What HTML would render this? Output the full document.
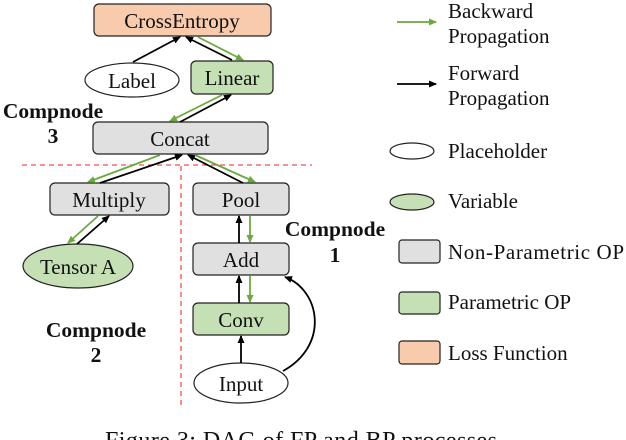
<!DOCTYPE html>
<html><head><style>
html,body{margin:0;padding:0;background:#fff;}
svg{display:block;}
text{font-family:"Liberation Serif",serif;fill:#111;}
</style></head><body>
<svg width="626" height="440" viewBox="0 0 626 440" xmlns="http://www.w3.org/2000/svg">
<defs>
<marker id="ab" markerWidth="8" markerHeight="8" refX="7" refY="4" orient="auto" markerUnits="userSpaceOnUse"><path d="M0,0.5 L8,4 L0,7.5 Z" fill="#000"/></marker>
<marker id="ag" markerWidth="8" markerHeight="8" refX="7" refY="4" orient="auto" markerUnits="userSpaceOnUse"><path d="M0,0.5 L8,4 L0,7.5 Z" fill="#6aaa3c"/></marker>
</defs>
<g stroke="#f05050" stroke-width="1.3" stroke-dasharray="5,4" fill="none">
<line x1="22" y1="165" x2="312" y2="165"/>
<line x1="181" y1="166" x2="181" y2="408"/>
</g>
<g stroke="#222" stroke-width="1.2">
<rect x="94" y="4" width="177" height="32" rx="5" fill="#f8cbad"/>
<ellipse cx="132" cy="80" rx="47" ry="17" fill="#fff"/>
<rect x="191" y="61" width="82" height="33" rx="5" fill="#c5e0b4"/>
<rect x="93" y="122" width="175" height="32" rx="5" fill="#e0e0e0"/>
<rect x="50" y="183" width="119" height="32" rx="5" fill="#e0e0e0"/>
<rect x="193" y="183" width="96" height="32" rx="5" fill="#e0e0e0"/>
<ellipse cx="78" cy="266" rx="55" ry="22" fill="#c5e0b4"/>
<rect x="193" y="243" width="96" height="32" rx="5" fill="#e0e0e0"/>
<rect x="193" y="303" width="96" height="32" rx="5" fill="#c5e0b4"/>
<ellipse cx="241" cy="383" rx="47" ry="20" fill="#fff"/>
</g>
<g stroke="#000" stroke-width="1.8" fill="none" marker-end="url(#ab)">
<line x1="133" y1="62" x2="180" y2="37"/>
<line x1="232" y1="60" x2="186" y2="37"/>
<line x1="180" y1="122" x2="231" y2="95"/>
<line x1="100" y1="183" x2="182" y2="155"/>
<line x1="243" y1="183" x2="188" y2="155"/>
<line x1="77" y1="244" x2="109" y2="216"/>
<line x1="239" y1="243" x2="239" y2="216"/>
<line x1="239" y1="303" x2="239" y2="276"/>
<line x1="241" y1="363" x2="241" y2="336"/>
<path d="M283,371 C330,345 320,290 285,277"/>
</g>
<g stroke="#6aaa3c" stroke-width="1.8" fill="none" marker-end="url(#ag)">
<line x1="198" y1="37" x2="243" y2="60"/>
<line x1="222" y1="95" x2="170" y2="121"/>
<line x1="160" y1="155" x2="88" y2="182"/>
<line x1="195" y1="155" x2="255" y2="182"/>
<line x1="98" y1="216" x2="68" y2="243"/>
<line x1="250" y1="216" x2="250" y2="242"/>
<line x1="250" y1="276" x2="250" y2="302"/>
</g>
<g font-size="21" text-anchor="middle">
<text x="182" y="28">CrossEntropy</text>
<text x="132" y="88">Label</text>
<text x="232" y="85">Linear</text>
<text x="180" y="146">Concat</text>
<text x="109" y="207">Multiply</text>
<text x="241" y="207">Pool</text>
<text x="78" y="274">Tensor A</text>
<text x="241" y="267">Add</text>
<text x="241" y="327">Conv</text>
<text x="241" y="391">Input</text>
</g>
<g font-size="21.5" font-weight="bold" text-anchor="middle">
<text x="53" y="118">Compnode</text><text x="53" y="143">3</text>
<text x="335" y="236">Compnode</text><text x="335" y="262">1</text>
<text x="96" y="337">Compnode</text><text x="96" y="362">2</text>
</g>
<line x1="397" y1="22" x2="436" y2="22" stroke="#6aaa3c" stroke-width="1.8" marker-end="url(#ag)"/>
<line x1="397" y1="84" x2="436" y2="84" stroke="#000" stroke-width="1.8" marker-end="url(#ab)"/>
<g stroke="#222" stroke-width="1.2">
<ellipse cx="412" cy="151" rx="22" ry="8" fill="#fff"/>
<ellipse cx="412" cy="202" rx="22" ry="8" fill="#c5e0b4"/>
<rect x="399" y="240" width="41" height="23" rx="3" fill="#e0e0e0"/>
<rect x="399" y="292" width="41" height="22" rx="3" fill="#c5e0b4"/>
<rect x="399" y="341" width="41" height="23" rx="3" fill="#f8cbad"/>
</g>
<g font-size="21">
<text x="448" y="18">Backward</text>
<text x="448" y="43">Propagation</text>
<text x="448" y="80">Forward</text>
<text x="448" y="105">Propagation</text>
<text x="448" y="158">Placeholder</text>
<text x="448" y="208">Variable</text>
<text x="448" y="259" textLength="176">Non-Parametric OP</text>
<text x="448" y="309">Parametric OP</text>
<text x="448" y="360">Loss Function</text>
</g>
<text x="105" y="448" font-size="24" textLength="392">Figure 3: DAG of FP and BP processes</text>
</svg>
</body></html>
